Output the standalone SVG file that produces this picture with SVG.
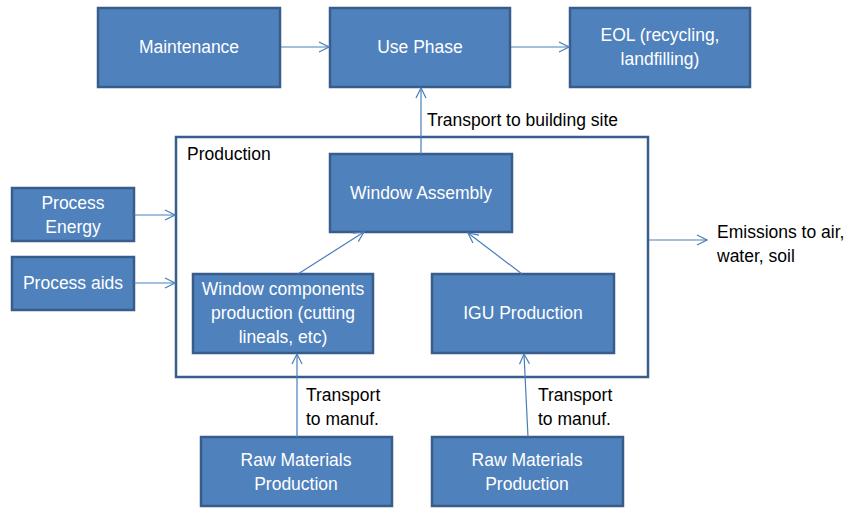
<svg xmlns="http://www.w3.org/2000/svg" width="848" height="508" viewBox="0 0 848 508">
<style>
.box{fill:#4f81bd;stroke:#385d8a;stroke-width:2.5}
.bt{fill:#fff;font-family:"Liberation Sans",Arial,sans-serif;font-size:17.5px;text-anchor:middle}
.lbl{fill:#000;font-family:"Liberation Sans",Arial,sans-serif;font-size:17.5px}
.con{stroke:#4a7ebb;stroke-width:1.2;fill:none;marker-end:url(#ah)}
</style>
<defs>
<marker id="ah" viewBox="0 0 12 12" refX="11" refY="6" markerWidth="12" markerHeight="12" markerUnits="userSpaceOnUse" orient="auto">
<path d="M1,1 L11,6 L1,11" fill="none" stroke="#4a7ebb" stroke-width="1.2"/>
</marker>
</defs>
<rect width="848" height="508" fill="#fff"/>
<g id="production">
<rect x="176" y="137" width="472" height="240" fill="#fff" stroke="#385d8a" stroke-width="2.5"/>
<text class="lbl" x="187" y="160">Production</text>
</g>
<g id="maintenance"><rect class="box" x="98" y="8" width="182" height="79"/><text class="bt" x="189" y="53">Maintenance</text></g>
<g id="use-phase"><rect class="box" x="330" y="8" width="180" height="79"/><text class="bt" x="420" y="53">Use Phase</text></g>
<g id="eol"><rect class="box" x="570" y="8" width="180" height="79"/><text class="bt" x="660" y="41">EOL (recycling,</text><text class="bt" x="660" y="65">landfilling)</text></g>
<g id="process-energy"><rect class="box" x="12" y="188" width="122" height="53"/><text class="bt" x="73" y="209">Process</text><text class="bt" x="73" y="233">Energy</text></g>
<g id="process-aids"><rect class="box" x="12" y="257" width="122" height="53"/><text class="bt" x="73" y="289">Process aids</text></g>
<g id="window-assembly"><rect class="box" x="330" y="154" width="182" height="78"/><text class="bt" x="421" y="199">Window Assembly</text></g>
<g id="window-components"><rect class="box" x="193" y="274" width="180" height="79"/><text class="bt" x="283" y="295">Window components</text><text class="bt" x="283" y="319">production (cutting</text><text class="bt" x="283" y="343">lineals, etc)</text></g>
<g id="igu-production"><rect class="box" x="432" y="274" width="182" height="79"/><text class="bt" x="523" y="319">IGU Production</text></g>
<g id="raw-materials-1"><rect class="box" x="201" y="437" width="191" height="69"/><text class="bt" x="296" y="466">Raw Materials</text><text class="bt" x="296" y="490">Production</text></g>
<g id="raw-materials-2"><rect class="box" x="432" y="437" width="191" height="69"/><text class="bt" x="527" y="466">Raw Materials</text><text class="bt" x="527" y="490">Production</text></g>
<g id="emissions"><text class="lbl" x="717" y="238">Emissions to air,</text><text class="lbl" x="717" y="262">water, soil</text></g>
<g id="connectors">
<line class="con" x1="281" y1="47" x2="329" y2="47"/>
<line class="con" x1="511" y1="47" x2="569" y2="47"/>
<line class="con" x1="421" y1="154" x2="421" y2="88"/>
<line class="con" x1="134" y1="215" x2="175" y2="215"/>
<line class="con" x1="134" y1="283" x2="175" y2="283"/>
<line class="con" x1="298" y1="274" x2="364" y2="232"/>
<line class="con" x1="522" y1="274" x2="468" y2="233"/>
<line class="con" x1="649" y1="240" x2="707" y2="240"/>
<line class="con" x1="297" y1="437" x2="297" y2="354"/>
<line class="con" x1="528" y1="437" x2="524" y2="354"/>
<text class="lbl" x="427" y="126">Transport to building site</text>
<text class="lbl" x="306" y="401">Transport</text>
<text class="lbl" x="306" y="425">to manuf.</text>
<text class="lbl" x="538" y="401">Transport</text>
<text class="lbl" x="538" y="425">to manuf.</text>
</g>
</svg>
